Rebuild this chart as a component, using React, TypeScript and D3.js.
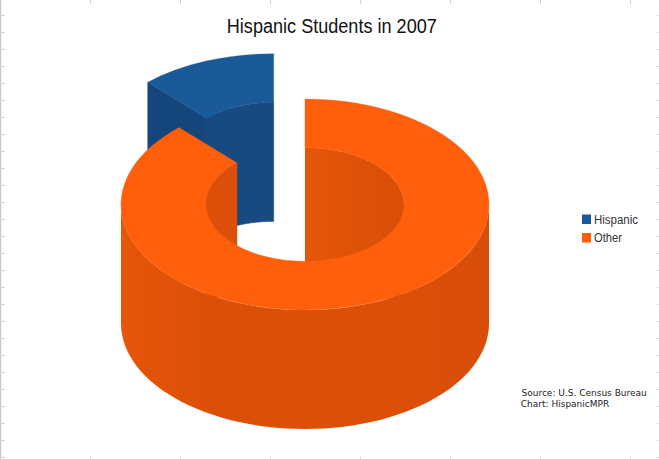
import * as d3 from 'd3';

const categories = ['Hispanic', 'Other'];
const shares = [12, 88];
const title = 'Hispanic Students in 2007';
const notes = ['Source: U.S. Census Bureau', 'Chart: HispanicMPR'];

const WIDTH = 659;
const HEIGHT = 459;
const cx = 305;
const cy = 204.5;
const outerR = 184;
const innerR = 99;
const squash = 0.5734;
const depth = 119;
const explode = 85;

const topColors = ['#1b5a98', '#ff5f0a'];
const sideColors = ['#164a80', '#dc4f08'];
const cutColor = '#15467b';

const sideTicks = d3.range(15, HEIGHT, 17);
const edgeTicks = d3.range(90, WIDTH, 90);

const slices = d3
  .pie<number>()
  .sort(null)
  .startAngle((-2 * Math.PI * shares[0]) / 100)
  .endAngle(2 * Math.PI - (2 * Math.PI * shares[0]) / 100)(shares);

const arc = d3.arc<unknown, { startAngle: number; endAngle: number }>().innerRadius(innerR).outerRadius(outerR);

// x/y of an angle on the flattened ring, clockwise from the top
const project = (angle: number, r: number, drop = 0): [number, number] => [
  r * Math.sin(angle),
  -r * Math.cos(angle) * squash + drop,
];

// vertical wall below a stretch of ring edge
const wall = (a0: number, a1: number, r: number) => {
  const n = 60;
  const angles = d3.range(n + 1).map((i) => a0 + ((a1 - a0) * i) / n);
  const upper = angles.map((a) => project(a, r));
  const lower = angles.map((a) => project(a, r, depth)).reverse();
  return d3.line()([...upper, ...lower]) + 'Z';
};

export default function App() {
  const [hispanic, other] = slices;
  const mid = (hispanic.startAngle + hispanic.endAngle) / 2;
  const dx = explode * Math.sin(mid);
  const dy = -explode * Math.cos(mid) * squash;
  const a0 = hispanic.startAngle;

  const cutFace =
    d3.line()([project(a0, outerR), project(a0, innerR), project(a0, innerR, depth), project(a0, outerR, depth)]) + 'Z';

  return (
    <svg
      width={WIDTH}
      height={HEIGHT}
      viewBox={`0 0 ${WIDTH} ${HEIGHT}`}
      style={{ position: 'absolute', left: 0, top: 0, background: '#fff' }}
    >
      <defs>
        <linearGradient id="outer-side" x1="0" x2="1" y1="0" y2="0">
          <stop offset="0%" stopColor="#e5550a" />
          <stop offset="25%" stopColor="#dc4f08" />
          <stop offset="75%" stopColor="#dc4f08" />
          <stop offset="100%" stopColor="#d84e08" />
        </linearGradient>
        <linearGradient id="inner-side" x1="0" x2="1" y1="0" y2="0">
          <stop offset="0%" stopColor="#e45608" />
          <stop offset="60%" stopColor="#dd5108" />
          <stop offset="100%" stopColor="#d94f07" />
        </linearGradient>
      </defs>

      <line x1={0.5} x2={0.5} y1={0} y2={HEIGHT} stroke="#c8c8c8" strokeWidth={1.5} />
      <g stroke="#d4d4d4" strokeWidth={1}>
        {sideTicks.map((y) => (
          <line key={`l${y}`} x1={0} x2={5} y1={y + 0.5} y2={y + 0.5} />
        ))}
        {sideTicks.map((y) => (
          <line key={`r${y}`} x1={657} x2={659} y1={y + 0.5} y2={y + 0.5} />
        ))}
        {edgeTicks.map((x) => (
          <line key={`t${x}`} x1={x + 0.5} x2={x + 0.5} y1={0} y2={4} />
        ))}
        {edgeTicks.map((x) => (
          <line key={`b${x}`} x1={x + 0.5} x2={x + 0.5} y1={457} y2={HEIGHT} />
        ))}
      </g>

      <g transform={`translate(${cx + dx},${cy + dy})`}>
        <path d={wall(hispanic.startAngle, hispanic.endAngle, innerR)} fill={sideColors[0]} stroke={sideColors[0]} strokeWidth={0.5} />
        <path d={cutFace} fill={cutColor} stroke={cutColor} strokeWidth={0.5} />
        <path d={arc(hispanic) ?? ''} transform={`scale(1,${squash})`} fill={topColors[0]} stroke={topColors[0]} strokeWidth={0.4} />
      </g>

      <g transform={`translate(${cx},${cy})`}>
        <path d={wall(other.startAngle, Math.PI / 2, innerR)} fill="url(#inner-side)" />
        <path d={wall((3 * Math.PI) / 2, other.endAngle, innerR)} fill={sideColors[1]} />
        <path d={wall(Math.PI / 2, (3 * Math.PI) / 2, outerR)} fill="url(#outer-side)" />
        <path d={arc(other) ?? ''} transform={`scale(1,${squash})`} fill={topColors[1]} stroke={topColors[1]} strokeWidth={0.4} />
      </g>

      <text x={331.8} y={33} textAnchor="middle" fontFamily="Liberation Sans" fontSize={20} fill="#111" textLength={210} lengthAdjust="spacingAndGlyphs">
        {title}
      </text>

      {categories.map((name, i) => (
        <g key={name} transform={`translate(582,${214.5 + i * 18.5})`}>
          <rect width={9} height={9.5} fill={topColors[i]} />
          <text x={12} y={9.3} fontFamily="Liberation Sans" fontSize={12} fill="#333" textLength={i === 0 ? 44 : 28} lengthAdjust="spacingAndGlyphs">
            {name}
          </text>
        </g>
      ))}

      {notes.map((line, i) => (
        <text key={line} x={i === 0 ? 521.5 : 520.8} y={395.5 + i * 11.5} fontFamily="DejaVu Sans" fontSize={9} fill="#222">
          {line}
        </text>
      ))}
    </svg>
  );
}
